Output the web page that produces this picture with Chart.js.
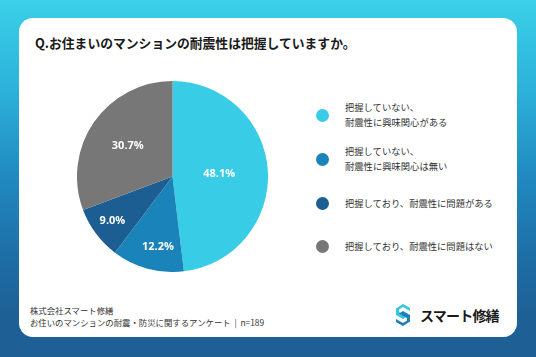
<!DOCTYPE html>
<html lang="ja">
<head>
<meta charset="utf-8">
<script src="https://cdn.jsdelivr.net/npm/chart.js@4/dist/chart.umd.min.js"></script>
<style>
  html, body { margin:0; padding:0; }
  body {
    width:536px; height:357px; overflow:hidden; position:relative;
    background: linear-gradient(180deg, #3bd0e8 0%, #2cb2da 25%, #2189c0 50%, #1e6ea6 72%, #1e6096 88%, #1e6096 100%);
    font-family: "Noto Sans CJK JP", "Noto Sans", sans-serif;
  }
  #card {
    position:absolute; left:19px; top:18px; width:498px; height:319px;
    background:#fff; border-radius:14px;
  }
  #title {
    position:absolute; left:35px; top:35px; font-size:12.8px; font-weight:700;
    line-height:16px; color:#1a1a1a; white-space:nowrap;
  }
  #pieWrap { position:absolute; left:77px; top:81px; width:191px; height:191px; }
  .lg-dot { position:absolute; width:13px; height:13px; border-radius:50%; }
  .lg-txt { position:absolute; left:345px; font-size:9.3px; line-height:15px; color:#333; white-space:nowrap; }
  #footer { position:absolute; left:30px; top:304px; font-size:8.4px; line-height:12px; color:#333; white-space:nowrap; }
  #logo { position:absolute; left:395px; top:304px; height:22px; white-space:nowrap; }
  #logo span { position:absolute; left:25px; top:0; font-size:14px; font-weight:700; line-height:22px; color:#1a1a1a; letter-spacing:-0.8px; }
</style>
</head>
<body>
<div id="card"></div>
<div id="title">Q.お住まいのマンションの耐震性は把握していますか。</div>
<div id="pieWrap"><canvas id="pie" width="191" height="191"></canvas></div>
<div id="legend"></div>
<div id="footer">株式会社スマート修繕<br>お住いのマンションの耐震・防災に関するアンケート&nbsp;&nbsp;|&nbsp;&nbsp;n=189</div>
<div id="logo">
  <svg width="16" height="22" viewBox="0 0 16 22" style="position:absolute;left:0;top:0">
    <polygon points="8,0 15,4 15,7 8,3 4,5.5 4,8 12,12.5 8,15 1,11 1,4.5" fill="#36c6e2"/>
    <polygon points="8,22 1,18 1,15 8,19 12,16.5 12,14 4,9.5 8,7 15,11 15,17.5" fill="#1f7fb8"/>
  </svg>
  <span>スマート修繕</span>
</div>
<script>
const categories = [
  ["把握していない、", "耐震性に興味関心がある"],
  ["把握していない、", "耐震性に興味関心は無い"],
  ["把握しており、耐震性に問題がある"],
  ["把握しており、耐震性に問題はない"]
];
const values = [48.1, 12.2, 9.0, 30.7];
const colors = ["#38cce6", "#1a83b9", "#1c5e92", "#777777"];

// legend (HTML, built from arrays)
const legendRows = [115, 159, 203, 246];
const legendEl = document.getElementById('legend');
categories.forEach((lines, i) => {
  const dot = document.createElement('div');
  dot.className = 'lg-dot';
  dot.style.background = colors[i];
  dot.style.left = (322 - 6.5) + 'px';
  dot.style.top = (legendRows[i] - 6.5) + 'px';
  legendEl.appendChild(dot);
  const t = document.createElement('div');
  t.className = 'lg-txt';
  t.innerHTML = lines.join('<br>');
  t.style.top = (legendRows[i] - lines.length * 7.5) + 'px';
  legendEl.appendChild(t);
});

const sliceLabels = {
  id: 'sliceLabels',
  afterDatasetsDraw(chart, args, opts) {
    const ctx = chart.ctx;
    const meta = chart.getDatasetMeta(0);
    ctx.save();
    ctx.fillStyle = '#ffffff';
    ctx.font = '700 11px "Open Sans", "Noto Sans", sans-serif';
    ctx.textAlign = 'center';
    ctx.textBaseline = 'middle';
    meta.data.forEach((arc, i) => {
      const p = arc.getProps(['x','y','startAngle','endAngle','outerRadius'], true);
      const mid = (p.startAngle + p.endAngle) / 2 + opts.angleShift[i];
      const r = p.outerRadius * opts.radius[i];
      ctx.fillText(values[i].toFixed(1) + '%', p.x + Math.cos(mid) * r, p.y + Math.sin(mid) * r);
    });
    ctx.restore();
  }
};

new Chart(document.getElementById('pie'), {
  type: 'pie',
  data: {
    labels: categories.map(l => l.join('')),
    datasets: [{ data: values, backgroundColor: colors, borderWidth: 0 }]
  },
  options: {
    responsive: false,
    animation: false,
    layout: { padding: 0 },
    plugins: {
      legend: { display: false },
      tooltip: { enabled: false },
      sliceLabels: { radius: [0.49, 0.75, 0.785, 0.57], angleShift: [0, -0.06, 0, 0] }
    }
  },
  plugins: [sliceLabels]
});
</script>
</body>
</html>
